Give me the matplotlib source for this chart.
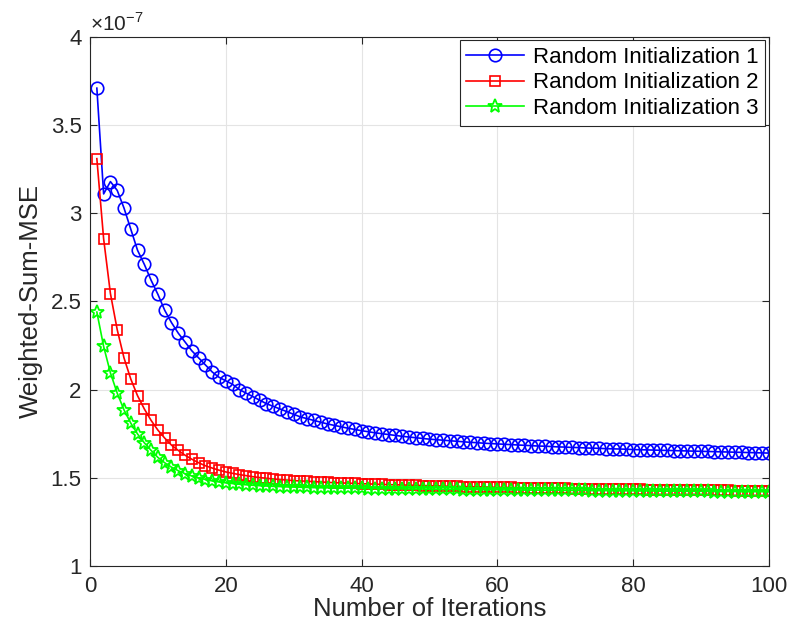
from matplotlib import pyplot as plt
from matplotlib.ticker import FuncFormatter
import numpy as np

plt.rcParams['font.family'] = ['Liberation Sans', 'DejaVu Sans']
plt.rcParams['mathtext.fontset'] = 'custom'
plt.rcParams['mathtext.rm'] = 'Liberation Sans'

# iterations 1..100, values in units of 1e-7
iterations = list(range(1, 101))

init1 = [3.71, 3.11, 3.18, 3.13, 3.03, 2.91, 2.79, 2.71, 2.62, 2.54,
         2.45, 2.38, 2.32, 2.27, 2.22, 2.18, 2.14, 2.10, 2.07, 2.05,
         2.03, 2.00, 1.98, 1.96, 1.94, 1.92, 1.905, 1.89, 1.875, 1.86,
         1.845, 1.835, 1.825, 1.815, 1.805, 1.797, 1.789, 1.781, 1.774, 1.767,
         1.761, 1.755, 1.750, 1.745, 1.740, 1.735, 1.731, 1.727, 1.723, 1.719,
         1.716, 1.713, 1.710, 1.707, 1.704, 1.701, 1.699, 1.696, 1.694, 1.692,
         1.690, 1.688, 1.686, 1.684, 1.682, 1.680, 1.679, 1.677, 1.675, 1.674,
         1.672, 1.671, 1.669, 1.668, 1.667, 1.665, 1.664, 1.663, 1.662, 1.660,
         1.659, 1.658, 1.657, 1.656, 1.655, 1.654, 1.653, 1.652, 1.651, 1.650,
         1.649, 1.648, 1.647, 1.646, 1.645, 1.644, 1.643, 1.642, 1.641, 1.640]

init2 = [3.31, 2.855, 2.545, 2.34, 2.18, 2.06, 1.965, 1.89, 1.825, 1.77,
         1.725, 1.685, 1.655, 1.628, 1.605, 1.585, 1.568, 1.555, 1.543, 1.533,
         1.525, 1.518, 1.512, 1.506, 1.501, 1.497, 1.493, 1.490, 1.487, 1.484,
         1.482, 1.480, 1.478, 1.476, 1.474, 1.472, 1.471, 1.469, 1.468, 1.466,
         1.465, 1.464, 1.462, 1.461, 1.460, 1.459, 1.458, 1.457, 1.456, 1.455,
         1.454, 1.453, 1.452, 1.451, 1.450, 1.449, 1.449, 1.448, 1.447, 1.446,
         1.446, 1.445, 1.444, 1.443, 1.443, 1.442, 1.441, 1.441, 1.440, 1.440,
         1.439, 1.438, 1.438, 1.437, 1.437, 1.436, 1.436, 1.435, 1.435, 1.434,
         1.434, 1.433, 1.433, 1.432, 1.432, 1.431, 1.431, 1.430, 1.430, 1.429,
         1.429, 1.429, 1.428, 1.428, 1.427, 1.427, 1.426, 1.426, 1.425, 1.425]

init3 = [2.44, 2.245, 2.095, 1.98, 1.885, 1.81, 1.748, 1.698, 1.655, 1.615,
         1.585, 1.56, 1.54, 1.523, 1.51, 1.499, 1.49, 1.482, 1.476, 1.471,
         1.467, 1.463, 1.460, 1.457, 1.455, 1.453, 1.451, 1.450, 1.448, 1.447,
         1.446, 1.445, 1.444, 1.443, 1.443, 1.442, 1.441, 1.441, 1.440, 1.440,
         1.439, 1.439, 1.438, 1.438, 1.437, 1.437, 1.436, 1.436, 1.436, 1.435,
         1.435, 1.434, 1.434, 1.434, 1.433, 1.433, 1.433, 1.432, 1.432, 1.432,
         1.431, 1.431, 1.431, 1.430, 1.430, 1.430, 1.429, 1.429, 1.429, 1.428,
         1.428, 1.428, 1.428, 1.427, 1.427, 1.427, 1.426, 1.426, 1.426, 1.426,
         1.425, 1.425, 1.425, 1.424, 1.424, 1.424, 1.424, 1.423, 1.423, 1.423,
         1.423, 1.422, 1.422, 1.422, 1.422, 1.421, 1.421, 1.421, 1.421, 1.420]

scale = 1e-7
dark = '#262626'

fig = plt.figure(figsize=(7.9, 6.38), dpi=100)
ax = fig.add_axes([0.114, 0.113, 0.859, 0.829])

ax.plot(iterations, np.array(init1) * scale, '-o', color='blue', mfc='none',
        ms=9, lw=1.2, mew=1.2, label='Random Initialization 1')
ax.plot(iterations, np.array(init2) * scale, '-s', color='red', mfc='none',
        ms=7.5, lw=1.2, mew=1.2, label='Random Initialization 2')
ax.plot(iterations, np.array(init3) * scale, '-*', color='#00ff00', mfc='none',
        ms=10, lw=1.2, mew=1.3, label='Random Initialization 3')

ax.set_xlim(0, 100)
ax.set_ylim(1e-7, 4e-7)
ax.set_xticks([0, 20, 40, 60, 80, 100])
ax.set_yticks(np.array([1, 1.5, 2, 2.5, 3, 3.5, 4]) * scale)
ax.yaxis.set_major_formatter(FuncFormatter(lambda v, p: '%g' % round(v / scale, 3)))
ax.text(0.0, 1.004, r'$\times$10$^{-7}$', transform=ax.transAxes,
        fontsize=15, color=dark, ha='left', va='bottom')

ax.grid(True, color='#e4e4e4', lw=0.8)
ax.set_axisbelow(True)
ax.tick_params(direction='in', labelsize=16, colors=dark, length=5,
               top=True, right=True, pad=6)
ax.tick_params(axis='x', pad=7)
for s in ax.spines.values():
    s.set_color(dark)

ax.set_xlabel('Number of Iterations', fontsize=18.5, color=dark, labelpad=0)
ax.set_ylabel('Weighted-Sum-MSE', fontsize=18.5, color=dark, labelpad=6)

leg = ax.legend(loc='upper right', bbox_to_anchor=(1.0, 1.0), fontsize=16,
                fancybox=False, framealpha=1, edgecolor=dark,
                borderaxespad=0.15, handlelength=2.6, handletextpad=0.4,
                labelspacing=0.2, borderpad=0.3)
leg.get_frame().set_linewidth(0.8)

fig.savefig('out.png', dpi=100)
